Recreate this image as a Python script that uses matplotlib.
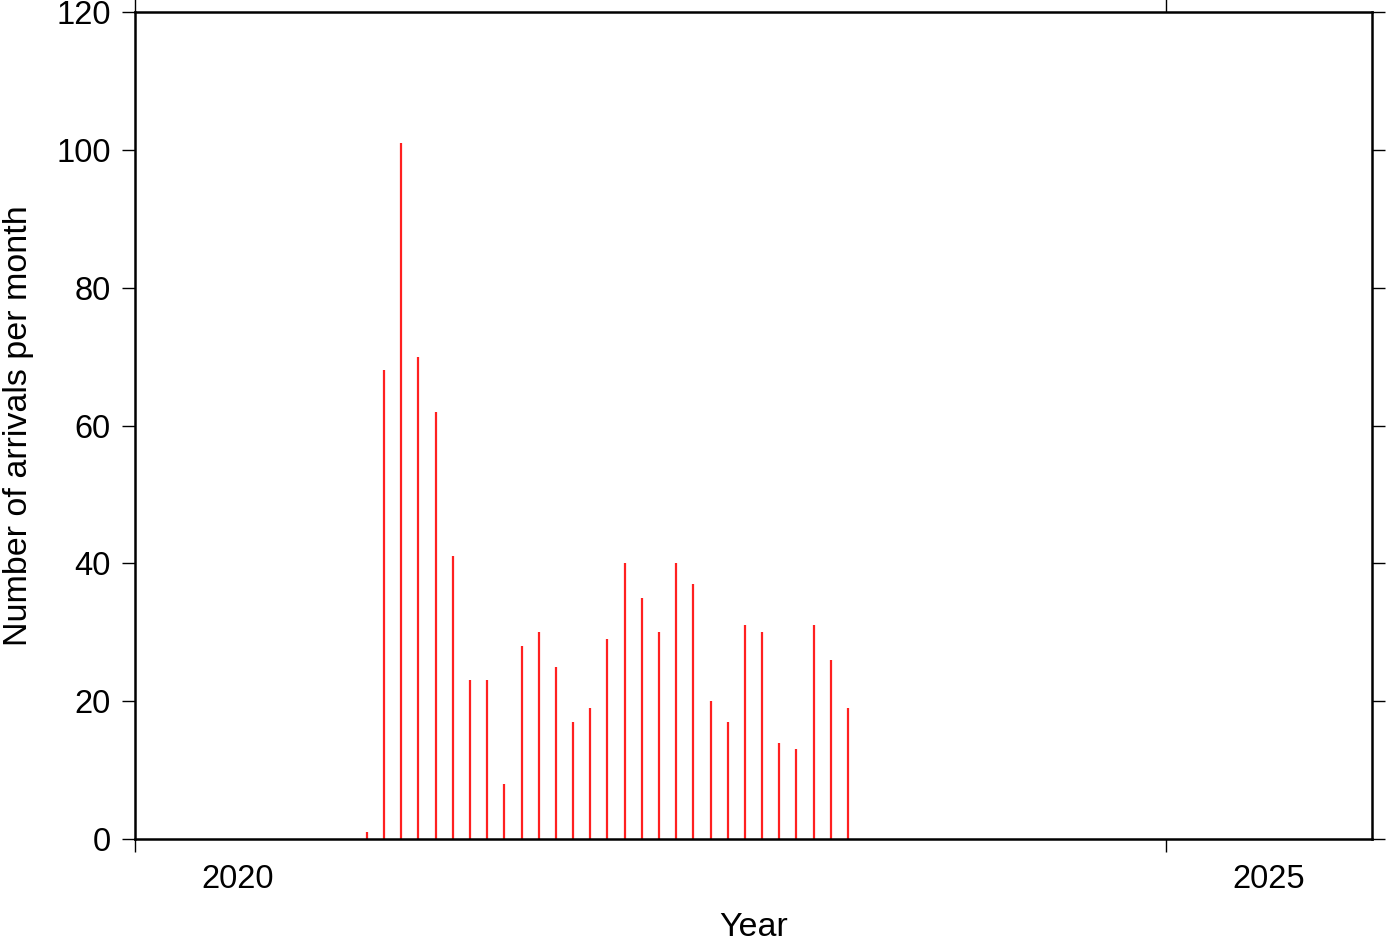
import matplotlib
matplotlib.use("Agg")
import matplotlib.pyplot as plt
import numpy as np

plt.rcParams['font.family'] = ['Liberation Sans', 'DejaVu Sans']

# Monthly arrivals, Feb 2021 .. Jun 2023
start_year = 2021
start_month = 2  # February
counts = [1, 68, 101, 70, 62, 41, 23, 23, 8, 28, 30, 25, 17, 19, 29, 40,
          35, 30, 40, 37, 20, 17, 31, 30, 14, 13, 31, 26, 19]
year_ticks = [2020, 2025]
year_labels = ["2020", "2025"]
yticks = [0, 20, 40, 60, 80, 100, 120]

months = np.arange(len(counts)) + (start_month - 1)
xpos = start_year + (months + 0.5) / 12.0

fig = plt.figure(figsize=(13.87, 9.42), dpi=100)
ax = fig.add_axes([135/1387, 103/942, (1372-135)/1387, (839-12)/942])

ax.vlines(xpos, 0, counts, colors='#ff2020', linewidth=1.6)

ax.set_xlim(2020, 2026)
ax.set_ylim(0, 120)

ax.set_xticks(year_ticks)
ax.set_xticklabels([])
ax.set_xticks([y + 0.5 for y in year_ticks], minor=True)
ax.set_xticklabels(year_labels, minor=True)
ax.tick_params(axis='x', which='major', direction='out', length=9.5, width=1,
               top=True, bottom=True)
ax.tick_params(axis='x', which='minor', length=0, pad=18, labelsize=23.5)

ax.set_yticks(yticks)
ax.tick_params(axis='y', which='major', direction='out', length=9.5, width=1,
               left=True, right=True, labelsize=23.5, pad=8)

for s in ax.spines.values():
    s.set_linewidth(1.8)

ax.set_xlabel("Year", fontsize=24.5, labelpad=12)
ax.set_ylabel("Number of arrivals per month", fontsize=24.5, labelpad=16)

fig.savefig("out.png", dpi=100)
